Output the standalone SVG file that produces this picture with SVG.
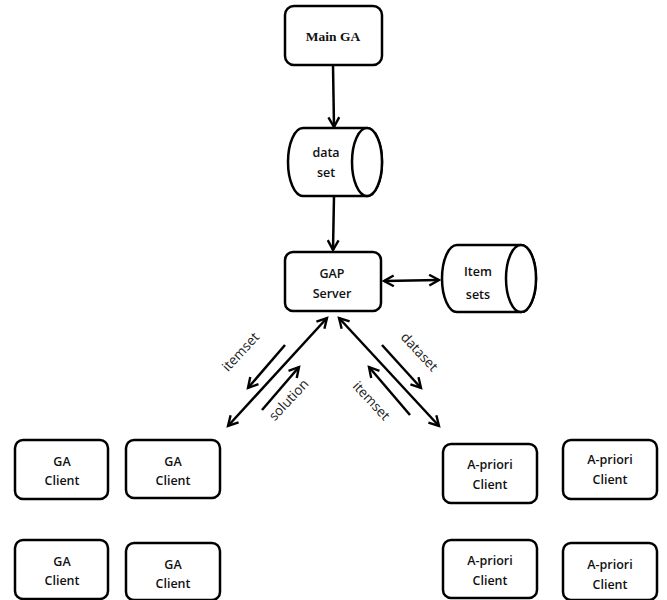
<svg xmlns="http://www.w3.org/2000/svg" width="667" height="600" viewBox="0 0 667 600">
<defs>
<marker id="ah" viewBox="0 0 12 12" refX="10" refY="6" markerWidth="13" markerHeight="13" markerUnits="userSpaceOnUse" orient="auto-start-reverse">
<path d="M1,1 L10,6 L1,11" fill="none" stroke="#000" stroke-width="2.2"/>
</marker>
</defs>
<style>
.box{fill:#fff;stroke:#000;stroke-width:2.5}
.t{font-family:"Open Sans","Liberation Sans",sans-serif;font-size:12.5px;font-weight:600;text-anchor:middle;fill:#111}
.m{font-family:"Liberation Serif",serif;font-size:13.5px;font-weight:bold;text-anchor:middle;fill:#111}
.l{font-family:"Open Sans","Liberation Sans",sans-serif;font-size:13.5px;text-anchor:middle;fill:#222}
.c{fill:none;stroke:#000;stroke-width:2.5}
</style>
<rect width="667" height="600" fill="#fff"/>
<g id="main-ga"><rect class="box" x="285" y="6" width="97" height="59" rx="9"/><text class="m" x="333" y="41">Main GA</text></g>
<g id="data-set"><path class="box" d="M303,128 H367 A15,34 0 0 1 367,196 H303 A15,34 0 0 1 303,128 Z"/><ellipse class="box" cx="367" cy="162" rx="15" ry="34"/><text class="t" x="326" y="157">data</text><text class="t" x="326" y="177">set</text></g>
<g id="gap-server"><rect class="box" x="285" y="252" width="96" height="59" rx="8"/><text class="t" x="332" y="278">GAP</text><text class="t" x="332" y="298">Server</text></g>
<g id="item-sets"><path class="box" d="M457,245 H521 A15,33.5 0 0 1 521,312 H457 A15,33.5 0 0 1 457,245 Z"/><ellipse class="box" cx="521" cy="278.5" rx="15" ry="33.5"/><text class="t" x="478" y="276">Item</text><text class="t" x="478" y="299">sets</text></g>
<g id="ga-client-1"><rect class="box" x="15" y="440" width="93" height="59" rx="8"/><text class="t" x="62" y="466">GA</text><text class="t" x="62" y="485">Client</text></g>
<g id="ga-client-2"><rect class="box" x="126" y="440" width="94" height="58" rx="8"/><text class="t" x="173" y="466">GA</text><text class="t" x="173" y="485">Client</text></g>
<g id="ga-client-3"><rect class="box" x="15" y="540" width="93" height="59" rx="8"/><text class="t" x="62" y="566">GA</text><text class="t" x="62" y="585">Client</text></g>
<g id="ga-client-4"><rect class="box" x="126" y="543" width="94" height="57" rx="8"/><text class="t" x="173" y="569">GA</text><text class="t" x="173" y="588">Client</text></g>
<g id="apriori-client-1"><rect class="box" x="443" y="444" width="94" height="59" rx="8"/><text class="t" x="490" y="469">A-priori</text><text class="t" x="490" y="489">Client</text></g>
<g id="apriori-client-2"><rect class="box" x="563" y="440" width="94" height="59" rx="8"/><text class="t" x="610" y="464">A-priori</text><text class="t" x="610" y="484">Client</text></g>
<g id="apriori-client-3"><rect class="box" x="443" y="540" width="94" height="58" rx="8"/><text class="t" x="490" y="565">A-priori</text><text class="t" x="490" y="585">Client</text></g>
<g id="apriori-client-4"><rect class="box" x="563" y="543" width="94" height="57" rx="8"/><text class="t" x="610" y="569">A-priori</text><text class="t" x="610" y="589">Client</text></g>
<g id="connectors">
<line class="c" x1="333" y1="65" x2="334" y2="127" marker-end="url(#ah)"/>
<line class="c" x1="334" y1="196" x2="333" y2="250" marker-end="url(#ah)"/>
<line class="c" x1="384" y1="281" x2="439" y2="280" marker-start="url(#ah)" marker-end="url(#ah)"/>
<line class="c" x1="228" y1="426" x2="327" y2="318" marker-start="url(#ah)" marker-end="url(#ah)"/>
<line class="c" x1="339" y1="318" x2="439" y2="426" marker-start="url(#ah)" marker-end="url(#ah)"/>
<line class="c" x1="285" y1="345" x2="248" y2="388" marker-end="url(#ah)"/>
<line class="c" x1="262" y1="410" x2="299" y2="367" marker-end="url(#ah)"/>
<line class="c" x1="382" y1="345" x2="421" y2="388" marker-end="url(#ah)"/>
<line class="c" x1="410" y1="415" x2="369" y2="367" marker-end="url(#ah)"/>
<text class="l" transform="translate(244,355) rotate(-47)">itemset</text>
<text class="l" transform="translate(292,403) rotate(-47)">solution</text>
<text class="l" transform="translate(416,355) rotate(47)">dataset</text>
<text class="l" transform="translate(368,404) rotate(47)">itemset</text>
</g>
</svg>
